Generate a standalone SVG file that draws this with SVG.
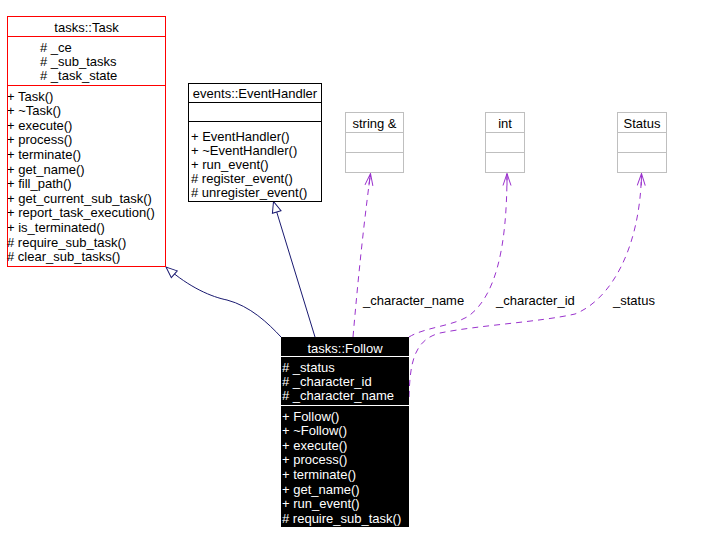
<svg xmlns="http://www.w3.org/2000/svg" width="701" height="545" viewBox="0 0 701 545">
<style>
text{font-family:"Liberation Sans",Arial,sans-serif;font-size:13px;fill:#000}
.c{text-anchor:middle}
.w{fill:#fff}
.box{fill:#fff;stroke:#000;stroke-width:1}
.red{fill:#fff;stroke:#ff0000;stroke-width:1}
.gray{fill:#fff;stroke:#bfbfbf;stroke-width:1}
.inh{fill:none;stroke:#191970;stroke-width:1}
.dep{fill:none;stroke:#9a32cd;stroke-width:1;stroke-dasharray:6,5}
</style>
<defs>
<marker id="tri" markerUnits="userSpaceOnUse" orient="auto" overflow="visible" refX="0" refY="0" markerWidth="12" markerHeight="12">
<path d="M0,0 L-11,-4.5 L-11,4.5 Z" fill="#fff" stroke="#191970" stroke-width="1"/>
</marker>
<marker id="vee" markerUnits="userSpaceOnUse" orient="auto" overflow="visible" refX="0" refY="0" markerWidth="12" markerHeight="12">
<path d="M-12,-4 L0,0 L-12,4 M-12,0 L0,0" fill="none" stroke="#9a32cd" stroke-width="1"/>
</marker>
</defs>

<g id="connectors">
<path class="inh" d="M281,337 C268,323 250,306 227,300 C212,297 190,288 166,267" marker-end="url(#tri)"/>
<path class="inh" d="M315,337 L273.5,201.5" marker-end="url(#tri)"/>
<path class="dep" d="M353,337 C358,280 363,230 370.5,173.5" marker-end="url(#vee)"/>
<path class="dep" d="M409,337 C425,327 455,326 470,315 C495,295 507,250 507,173.5" marker-end="url(#vee)"/>
<path class="dep" d="M409,397 C410,365 413,340 440,333 C480,325 540,322 575,314 C610,300 640,250 641.5,173.5" marker-end="url(#vee)"/>
<text x="363" y="305">_character_name</text>
<text x="496" y="305">_character_id</text>
<text x="613" y="305">_status</text>
</g>

<g id="task">
<rect class="red" x="7.5" y="16.5" width="158" height="250"/>
<line x1="7.5" y1="36.5" x2="165.5" y2="36.5" stroke="#ff0000"/>
<line x1="7.5" y1="85.5" x2="165.5" y2="85.5" stroke="#ff0000"/>
<text class="c" x="86.5" y="31.5">tasks::Task</text>
<text x="40" y="52">#  _ce</text>
<text x="40" y="66">#  _sub_tasks</text>
<text x="40" y="80.3">#  _task_state</text>
<text x="7" y="100.5">+ Task()</text>
<text x="7" y="115.1">+ ~Task()</text>
<text x="7" y="129.7">+ execute()</text>
<text x="7" y="144.3">+ process()</text>
<text x="7" y="158.9">+ terminate()</text>
<text x="7" y="173.5">+ get_name()</text>
<text x="7" y="188.1">+ fill_path()</text>
<text x="7" y="202.7">+ get_current_sub_task()</text>
<text x="7" y="217.3">+ report_task_execution()</text>
<text x="7" y="231.9">+ is_terminated()</text>
<text x="7" y="246.5"># require_sub_task()</text>
<text x="7" y="261.1"># clear_sub_tasks()</text>
</g>

<g id="eventhandler">
<rect class="box" x="188.5" y="83.5" width="133" height="118"/>
<line x1="188.5" y1="102.5" x2="321.5" y2="102.5" stroke="#000"/>
<line x1="188.5" y1="121.5" x2="321.5" y2="121.5" stroke="#000"/>
<text class="c" x="255" y="98">events::EventHandler</text>
<text x="191" y="140.5">+ EventHandler()</text>
<text x="191" y="154.6">+ ~EventHandler()</text>
<text x="191" y="168.7">+ run_event()</text>
<text x="191" y="182.8"># register_event()</text>
<text x="191" y="196.9"># unregister_event()</text>
</g>

<g id="string">
<rect class="gray" x="345.5" y="112.5" width="58" height="60"/>
<line x1="345.5" y1="132.5" x2="403.5" y2="132.5" stroke="#bfbfbf"/>
<line x1="345.5" y1="152.5" x2="403.5" y2="152.5" stroke="#bfbfbf"/>
<text class="c" x="374.5" y="127.5">string &amp;</text>
</g>

<g id="int">
<rect class="gray" x="485.5" y="112.5" width="39" height="60"/>
<line x1="485.5" y1="132.5" x2="524.5" y2="132.5" stroke="#bfbfbf"/>
<line x1="485.5" y1="152.5" x2="524.5" y2="152.5" stroke="#bfbfbf"/>
<text class="c" x="505" y="127.5">int</text>
</g>

<g id="status">
<rect class="gray" x="617.5" y="112.5" width="49" height="60"/>
<line x1="617.5" y1="132.5" x2="666.5" y2="132.5" stroke="#bfbfbf"/>
<line x1="617.5" y1="152.5" x2="666.5" y2="152.5" stroke="#bfbfbf"/>
<text class="c" x="642" y="127.5">Status</text>
</g>

<g id="follow">
<rect x="281" y="337" width="128" height="190" fill="#000"/>
<line x1="281" y1="356.5" x2="409" y2="356.5" stroke="#fff"/>
<line x1="281" y1="405.5" x2="409" y2="405.5" stroke="#fff"/>
<text class="c w" x="345" y="353">tasks::Follow</text>
<text class="w" x="282" y="371.7">#  _status</text>
<text class="w" x="282" y="385.5">#  _character_id</text>
<text class="w" x="282" y="400">#  _character_name</text>
<text class="w" x="282" y="420.5">+ Follow()</text>
<text class="w" x="282" y="435.1">+ ~Follow()</text>
<text class="w" x="282" y="449.8">+ execute()</text>
<text class="w" x="282" y="464.4">+ process()</text>
<text class="w" x="282" y="479.1">+ terminate()</text>
<text class="w" x="282" y="493.7">+ get_name()</text>
<text class="w" x="282" y="508.4">+ run_event()</text>
<text class="w" x="282" y="523"># require_sub_task()</text>
</g>
</svg>
